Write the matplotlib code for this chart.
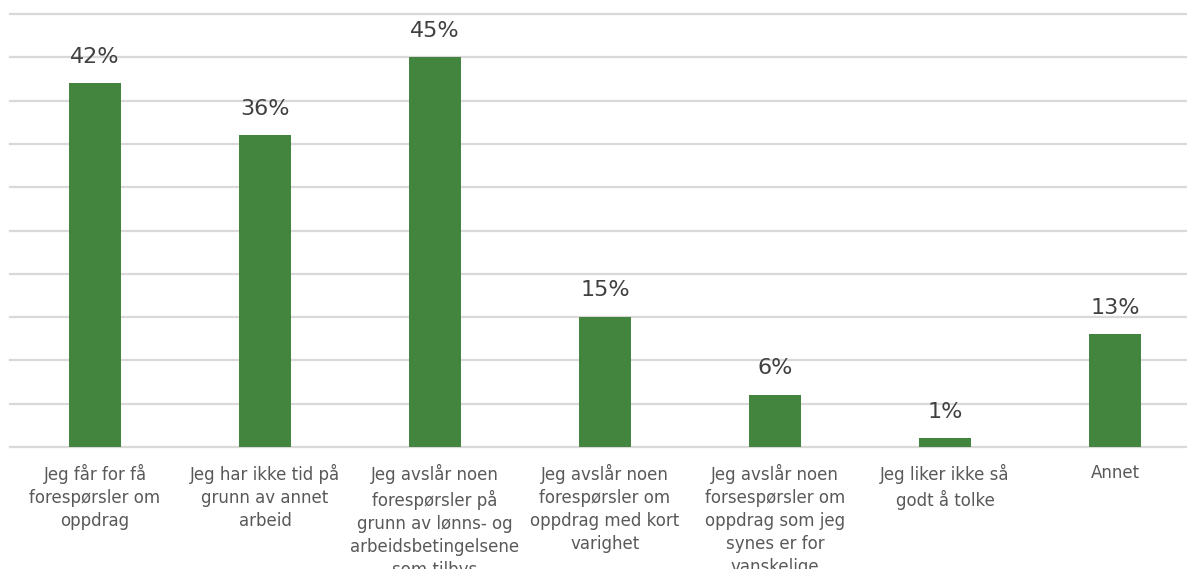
import matplotlib.pyplot as plt

categories = [
    "Jeg får for få\nforespørsler om\noppdrag",
    "Jeg har ikke tid på\ngrunn av annet\narbeid",
    "Jeg avslår noen\nforespørsler på\ngrunn av lønns- og\narbeidsbetingelsene\nsom tilbys",
    "Jeg avslår noen\nforespørsler om\noppdrag med kort\nvarighet",
    "Jeg avslår noen\nforsespørsler om\noppdrag som jeg\nsynes er for\nvanskelige",
    "Jeg liker ikke så\ngodt å tolke",
    "Annet",
]
shares = [42, 36, 45, 15, 6, 1, 13]

W, H = 1187, 569
fig = plt.figure(figsize=(W / 100, H / 100), dpi=100)
# plot area runs a little past the right edge of the canvas
ax = fig.add_axes([10 / W, 122 / H, 1190 / W, 433 / H])

x = range(len(categories))
bars = ax.bar(x, shares, width=0.31, color="#43843f", zorder=3)

for b, v in zip(bars, shares):
    ax.annotate(f"{v}%", (b.get_x() + b.get_width() / 2, v),
                xytext=(0, 12), textcoords="offset points",
                ha="center", va="bottom", fontsize=16, color="#404040")

ax.set_xlim(-0.5, len(categories) - 0.5)
ax.set_ylim(0, 50)
ax.set_yticks(range(0, 51, 5))
ax.yaxis.grid(True, color="#d9d9d9", linewidth=1.6, zorder=0)
for gl in ax.get_ygridlines():
    gl.set_clip_on(False)
ax.tick_params(axis="y", left=False, labelleft=False)
ax.set_xticks(list(x))
ax.set_xticklabels(categories, fontsize=12, color="#595959", linespacing=1.36)
ax.tick_params(axis="x", length=0, pad=12)
for s in ax.spines.values():
    s.set_visible(False)

fig.savefig("out.png", dpi=100)
